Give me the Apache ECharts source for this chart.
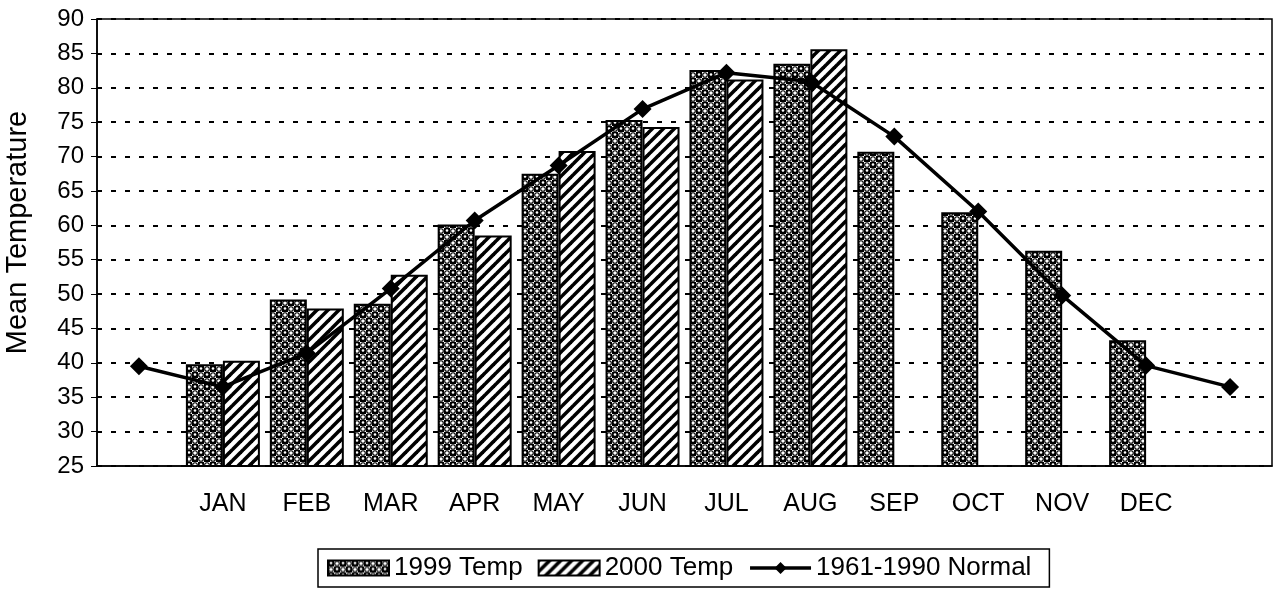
<!DOCTYPE html>
<html>
<head>
<meta charset="utf-8">
<title>Mean Temperature</title>
<script src="https://cdn.jsdelivr.net/npm/echarts@6/dist/echarts.min.js"></script>
<style>
  html, body { margin: 0; padding: 0; background: #fff; }
  #chart { width: 1275px; height: 597px; }
</style>
</head>
<body>
<div id="chart"></div>
<script>
// months padded with an empty slot on each side (normal line wraps DEC / JAN)
var months = ['', 'JAN', 'FEB', 'MAR', 'APR', 'MAY', 'JUN', 'JUL', 'AUG', 'SEP', 'OCT', 'NOV', 'DEC', ''];
var temp1999 = [null, 39.8, 49.2, 48.6, 60.1, 67.5, 75.3, 82.6, 83.5, 70.7, 61.9, 56.3, 43.3, null];
var temp2000 = [null, 40.3, 47.9, 52.8, 58.5, 70.8, 74.3, 81.2, 85.6, null, null, null, null, null];
var normal = [39.5, 36.5, 41.4, 50.8, 60.7, 68.7, 76.9, 82.2, 80.9, 72.9, 62.0, 49.8, 39.6, 36.5];
var seriesNames = ['1999 Temp', '2000 Temp', '1961-1990 Normal'];
var yMin = 25, yMax = 90, yStep = 5;

var FONT = 'Liberation Sans, Arial, Helvetica, sans-serif';

// checker + balls fill for 1999
function ballPattern() {
  var c = document.createElement('canvas');
  c.width = 12; c.height = 12;
  var g = c.getContext('2d');
  g.fillStyle = '#fff';
  g.fillRect(0, 0, 12, 12);
  g.fillStyle = '#000';
  g.fillRect(0, 0, 6, 6);
  g.fillRect(6, 6, 6, 6);
  // rings in the white cells
  g.strokeStyle = '#000';
  g.lineWidth = 1.1;
  [[9, 3], [3, 9]].forEach(function (p) {
    g.beginPath();
    g.arc(p[0], p[1], 2.3, 0, Math.PI * 2);
    g.stroke();
  });
  // highlights in the black cells
  g.fillStyle = '#fff';
  [[3, 3], [9, 9]].forEach(function (p) {
    g.beginPath();
    g.arc(p[0], p[1] - 0.5, 1.3, 0, Math.PI * 2);
    g.fill();
  });
  return c;
}

// diagonal hatch for 2000
function hatchPattern() {
  var c = document.createElement('canvas');
  c.width = 11; c.height = 11;
  var g = c.getContext('2d');
  g.fillStyle = '#fff';
  g.fillRect(0, 0, 11, 11);
  g.strokeStyle = '#000';
  g.lineWidth = 3.6;
  for (var k = -1; k <= 1; k++) {
    g.beginPath();
    g.moveTo(k * 11 - 1, 12);
    g.lineTo(k * 11 + 12, -1);
    g.stroke();
  }
  return c;
}

var chart = echarts.init(document.getElementById('chart'), null, { renderer: 'canvas' });

var option = {
  backgroundColor: '#fff',
  animation: false,
  textStyle: { fontFamily: FONT, color: '#000' },
  grid: {
    left: 97,
    right: 3,
    top: 19,
    bottom: 131,
    containLabel: false,
    outerBoundsMode: 'none',
    show: true,
    borderColor: '#000',
    borderWidth: 1.5
  },
  legend: {
    data: [
      { name: seriesNames[0], icon: 'rect' },
      { name: seriesNames[1], icon: 'rect' },
      { name: seriesNames[2] }
    ],
    left: 318,
    top: 549,
    padding: [6, 18, 6, 9],
    itemGap: 15,
    itemWidth: 61,
    itemHeight: 15,
    borderColor: '#000',
    borderWidth: 1.5,
    lineStyle: { width: 3.5 },
    textStyle: { fontFamily: FONT, fontSize: 26, color: '#000' }
  },
  xAxis: {
    type: 'category',
    data: months,
    axisLine: { lineStyle: { color: '#000', width: 1.5 } },
    axisTick: { inside: true, length: 5, interval: 0, lineStyle: { color: '#000' } },
    axisLabel: { fontFamily: FONT, fontSize: 25, color: '#000', margin: 26, interval: 0 },
    splitLine: { show: false }
  },
  yAxis: {
    type: 'value',
    min: yMin,
    max: yMax,
    interval: yStep,
    name: 'Mean Temperature',
    nameLocation: 'middle',
    nameGap: 65,
    nameTextStyle: { fontFamily: FONT, fontSize: 29, color: '#000', padding: [0, 0, 0, 20] },
    axisLine: { show: true, lineStyle: { color: '#000', width: 1.5 } },
    axisTick: { show: true, length: 6, lineStyle: { color: '#000' } },
    axisLabel: { fontFamily: FONT, fontSize: 24, color: '#000', margin: 13 },
    splitLine: {
      show: true,
      lineStyle: { color: '#000', width: 2, type: [5, 9] }
    }
  },
  series: [
    {
      name: seriesNames[0],
      type: 'bar',
      data: temp1999,
      barWidth: 37,
      barGap: '0%',
      itemStyle: {
        color: { image: ballPattern(), repeat: 'repeat' },
        borderColor: '#000',
        borderWidth: 2
      }
    },
    {
      name: seriesNames[1],
      type: 'bar',
      data: temp2000,
      barWidth: 37,
      barGap: '0%',
      itemStyle: {
        color: { image: hatchPattern(), repeat: 'repeat' },
        borderColor: '#000',
        borderWidth: 2
      }
    },
    {
      name: seriesNames[2],
      type: 'line',
      data: normal,
      symbol: 'diamond',
      symbolSize: 18,
      showAllSymbol: true,
      lineStyle: { color: '#000', width: 3.5 },
      itemStyle: { color: '#000' }
    }
  ]
};

chart.setOption(option);
window.addEventListener('resize', function () {
  chart && chart.resize();
});
</script>
</body>
</html>
